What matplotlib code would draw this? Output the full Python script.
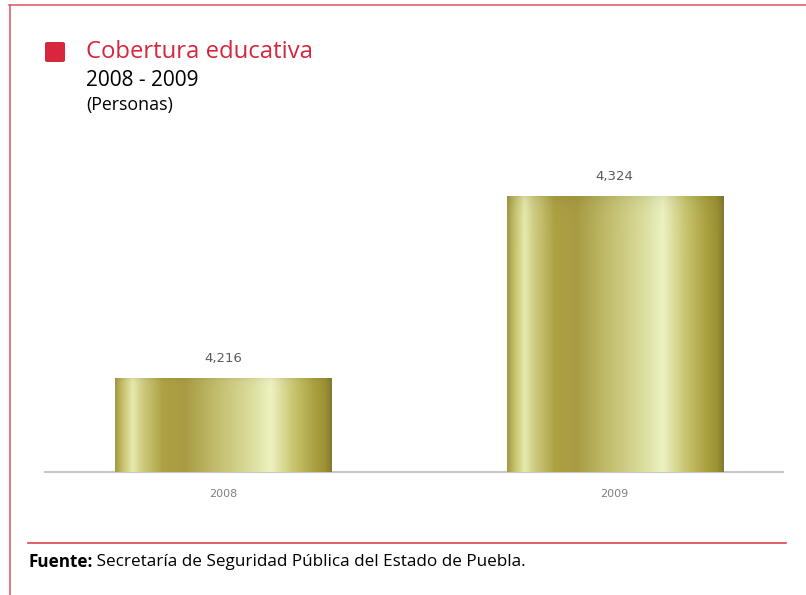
import numpy as np
import matplotlib
matplotlib.use("Agg")
import matplotlib.pyplot as plt
from matplotlib.colors import LinearSegmentedColormap
from matplotlib.lines import Line2D
from matplotlib.patches import FancyBboxPatch

categories = ["2008", "2009"]
values = [4216, 4324]
value_labels = ["4,216", "4,324"]
title = "Cobertura educativa"
subtitle = "2008 - 2009"
unit = "(Personas)"
source_bold = "Fuente:"
source_text = " Secretaría de Seguridad Pública del Estado de Puebla."

W, H = 806, 595
fig = plt.figure(figsize=(W / 100, H / 100), dpi=100)
fig.patch.set_facecolor("white")

RED = "#d7263d"

def fx(px):
    return px / W

def fy(py):
    return 1 - py / H

# frame lines
fig.add_artist(Line2D([fx(9), fx(806)], [fy(5), fy(5)], color="#e06070", lw=1.2))
fig.add_artist(Line2D([fx(10), fx(10)], [fy(5), fy(595)], color="#e06070", lw=1.2))
fig.add_artist(Line2D([fx(28), fx(786)], [fy(543), fy(543)], color="#e04050", lw=1.2))

# title block
fig.add_artist(FancyBboxPatch((fx(45), fy(62)), fx(20), 20 / H,
                              boxstyle="round,pad=0,rounding_size=0.003",
                              facecolor=RED, edgecolor="none"))
fig.text(fx(86), fy(52), title, color=RED, fontsize=17.2, family="Open Sans",
         va="center", ha="left")
fig.text(fx(86), fy(80), subtitle, color="black", fontsize=15, family="Open Sans",
         va="center", ha="left")
fig.text(fx(86), fy(105), unit, color="black", fontsize=12.8, family="Open Sans",
         va="center", ha="left")

t = fig.text(fx(28), fy(562), source_bold, color="black", fontsize=12.3,
             family="Open Sans", weight="bold", va="center", ha="left")
fig.canvas.draw()
bb = t.get_window_extent()
fig.text(bb.x1 / W, fy(562), source_text, color="black", fontsize=12.3,
         family="Open Sans", va="center", ha="left")

# axes
ax_left, ax_right = 45, 783
ax_bottom, ax_top = 472, 150
ax = fig.add_axes([fx(ax_left), 1 - ax_bottom / H, (ax_right - ax_left) / W,
                   (ax_bottom - ax_top) / H])
ax.set_facecolor("none")
x = np.arange(len(categories))
bw = 0.552
bars = ax.bar(x, values, width=bw, color="none", edgecolor="none", zorder=2)
ax.set_xlim(-0.455, 1.430)
ax.set_ylim(4160, 4351)

# golden cylinder gradient
stops = [
    (0.00, (0.64, 0.60, 0.28)),
    (0.03, (0.76, 0.74, 0.40)),
    (0.08, (0.90, 0.92, 0.68)),
    (0.12, (0.82, 0.81, 0.52)),
    (0.22, (0.68, 0.63, 0.26)),
    (0.32, (0.66, 0.61, 0.26)),
    (0.48, (0.77, 0.75, 0.44)),
    (0.62, (0.85, 0.86, 0.60)),
    (0.72, (0.93, 0.95, 0.76)),
    (0.82, (0.79, 0.78, 0.45)),
    (0.92, (0.67, 0.63, 0.25)),
    (0.97, (0.61, 0.57, 0.20)),
    (1.00, (0.52, 0.48, 0.20)),
]
cmap = LinearSegmentedColormap.from_list("gold", stops)
grad = np.linspace(0, 1, 512)
rows = np.linspace(0, 1, 64)
img = np.tile(grad, (64, 1))
for rect in bars:
    x0 = rect.get_x()
    w = rect.get_width()
    h = rect.get_height()
    y0 = ax.get_ylim()[0]
    rgb = cmap(img)[:, :, :3]
    shade = 1 - 0.06 * np.exp(-((1 - rows) / 0.03))
    rgb = rgb * shade[:, None, None]
    im = ax.imshow(rgb, extent=[x0, x0 + w, y0, h], aspect="auto",
                   origin="lower", zorder=3, interpolation="bilinear")
    im.set_clip_path(rect)

for xi, v, lab in zip(x, values, value_labels):
    ax.annotate(lab, (xi, v), xytext=(0, 9), textcoords="offset points",
                ha="center", va="bottom", fontsize=9.5, color="#5a5a5a",
                family="DejaVu Sans")

for s in ["top", "right", "left"]:
    ax.spines[s].set_visible(False)
ax.spines["bottom"].set_color("#c8c8cc")
ax.spines["bottom"].set_linewidth(1.5)
ax.set_yticks([])
ax.set_xticks(x)
ax.set_xticklabels(categories, fontsize=8, color="#808080", family="DejaVu Sans")
ax.tick_params(axis="x", length=0, pad=12)

fig.savefig("out.png", dpi=100)
